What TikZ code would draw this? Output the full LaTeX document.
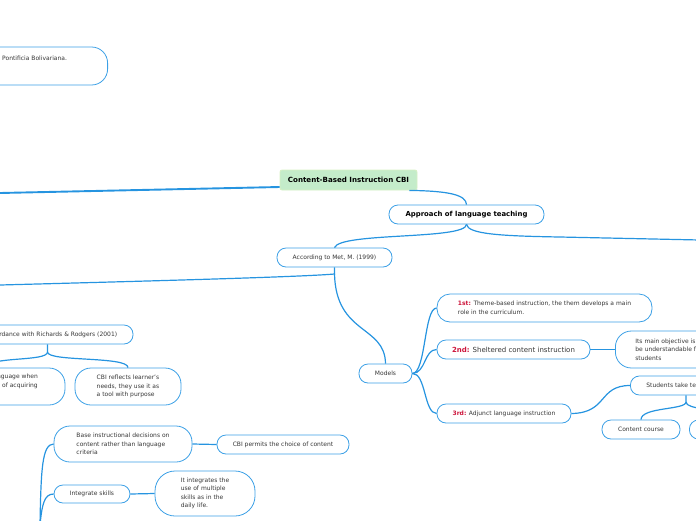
\documentclass[tikz,border=0pt]{standalone}
\usepackage{fontspec}
\setmainfont{DejaVu Sans}
\usetikzlibrary{positioning}
\definecolor{mmline}{RGB}{38,148,224}
\definecolor{mmborder}{RGB}{60,160,230}
\definecolor{mmink}{RGB}{55,55,55}
\definecolor{mmred}{RGB}{205,22,60}
\definecolor{mmgreen}{RGB}{196,236,202}
\definecolor{mmgreenedge}{RGB}{214,240,196}
\tikzset{
  every picture/.style={font=\fontsize{6}{8.5}\selectfont},
  topic/.style={draw=mmborder,line width=0.8pt,fill=white,text=mmink,
    rounded corners=9pt,inner sep=0pt,minimum height=19pt},
  tall/.style={topic,rounded corners=16pt,align=left},
  centre/.style={draw=mmgreenedge,line width=0.8pt,fill=mmgreen,text=black,
    rounded corners=2pt,inner sep=0pt,minimum height=20pt,
    font=\fontsize{7.1}{8}\selectfont\bfseries},
  link/.style={mmline,line width=1.2pt},
  trunk/.style={mmline,line width=1.9pt},
}
\begin{document}
\begin{tikzpicture}[x=1pt,y=-1pt]
  \useasboundingbox (0,0) rectangle (696,520);
  \clip (0,0) rectangle (696,520);
  % free ends of the branches that leave the picture
  \coordinate (farleft) at (0,193);
  \coordinate (farright) at (700,240);
  \coordinate (midleft) at (0,285);
  \coordinate (lowleft) at (40,525);
  \coordinate (metjoin) at (334.5,274);
  \coordinate (rrjoin) at (47.5,352);
  \coordinate (stujoin) at (686,402);
  % nodes
  \node[tall,anchor=east,minimum width=250pt,minimum height=38pt] (upb) at (108,66) {};
  \node[anchor=base west,text=mmink,inner sep=0pt] (upbtext) at (2,60) {Pontificia Bolivariana.};
  \node[centre,minimum width=137pt] (cbi) at (348.5,180) {Content-Based Instruction CBI};
  \node[topic,minimum width=155pt,font=\fontsize{6.9}{8}\selectfont\bfseries,text=black] (approach) at (466.5,214.5) {Approach of language teaching};
  \node[topic,minimum width=115pt] (met) at (334.5,257.5) {According to Met, M. (1999)};
  \node[topic,minimum width=53pt] (models) at (385.5,373.5) {Models};
  \node[tall,minimum width=215pt,minimum height=28pt,rounded corners=13pt] (first) at (544.5,308)
    {\textcolor{mmred}{\bfseries 1st:} Theme-based instruction, the them develops a main\\role in the curriculum.};
  \node[topic,minimum width=153pt,font=\fontsize{7}{8}\selectfont] (second) at (513.5,349.5)
    {\textcolor{mmred}{\bfseries 2nd:} Sheltered content instruction};
  \node[tall,anchor=west,minimum width=108pt,minimum height=37pt] (objective) at (615,349.5)
    {Its main objective is to\\be understandable for\\students};
  \node[topic,minimum width=134pt] (third) at (504,413.5)
    {\textcolor{mmred}{\bfseries 3rd:} Adjunct language instruction};
  \node[topic,anchor=west,inner xsep=16pt] (students) at (630,385.5) {Students take te};
  \node[topic,minimum width=78pt] (content) at (641,429.5) {Content course};
  \node[topic,anchor=west,minimum width=60pt] (language) at (689,429.5) {};
  \node[topic,minimum width=171pt] (richards) at (47.5,334.5) {In accordance with Richards \& Rodgers (2001)};
  \node[tall,minimum width=155pt,minimum height=37pt] (usebox) at (-12.5,386.5) {};
  \node[anchor=north east,align=right,text=mmink,inner sep=0pt] (usetext) at (38,374) {language when\\of acquiring};
  \node[tall,minimum width=106pt,minimum height=37pt] (needs) at (128,386.5)
    {CBI reflects learner's\\needs, they use it as\\a tool with purpose};
  \node[tall,minimum width=138pt,minimum height=36pt] (base) at (123,444)
    {Base instructional decisions on\\content rather than language\\criteria};
  \node[topic,minimum width=132pt] (permits) at (283,444.5) {CBI permits the choice of content};
  \node[topic,minimum width=76pt,minimum height=18pt] (integrate) at (92,494) {Integrate skills};
  \node[tall,minimum width=100pt,minimum height=45pt,rounded corners=20pt] (multiple) at (205,493.5)
    {It integrates the\\use of multiple\\skills as in the\\daily life.};
  % connectors
  \draw[trunk] ([yshift=-7pt]cbi.west) -- (farleft);
  \draw[link] ([xshift=-8pt]cbi.south east) .. controls (450,191) and (466,195) .. (approach.north);
  \draw[link] (approach.south) .. controls (466,240) and (340,232) .. (met.north);
  \draw[link] (approach.south) .. controls (468,234) and (500,236) .. (560,237) -- (farright);
  \draw[link] (met.south) -- (metjoin) .. controls (300,277) and (150,281) .. (midleft);
  \draw[link] (metjoin) .. controls (336,335) and (385,325) .. (models.north);
  \draw[link] (models.east) .. controls (426,373) and (424,308) .. (first.west);
  \draw[link] (models.east) .. controls (426,373) and (424,349.5) .. (second.west);
  \draw[link] (models.east) .. controls (426,373) and (424,413.5) .. (third.west);
  \draw[link] (second.east) -- (objective.west);
  \draw[link] (third.east) .. controls (608,413) and (598,385.5) .. (students.west);
  \draw[link] (students.south -| stujoin) -- (stujoin) .. controls (686,410) and (641,407) .. (content.north);
  \draw[link] (stujoin) .. controls (686,410) and (719,407) .. (language.north);
  \draw[link] (richards.south) -- (rrjoin) .. controls (47.5,362) and (-12.5,356) .. (usebox.north);
  \draw[link] (rrjoin) .. controls (47.5,362) and (128,356) .. (needs.north);
  \draw[link] (lowleft) .. controls (41,470) and (42,444) .. (base.west);
  \draw[link] (lowleft) .. controls (42,505) and (44,494) .. (integrate.west);
  \draw[link] (base.east) -- (permits.west);
  \draw[link] (integrate.east) -- (multiple.west);
\end{tikzpicture}
\end{document}
